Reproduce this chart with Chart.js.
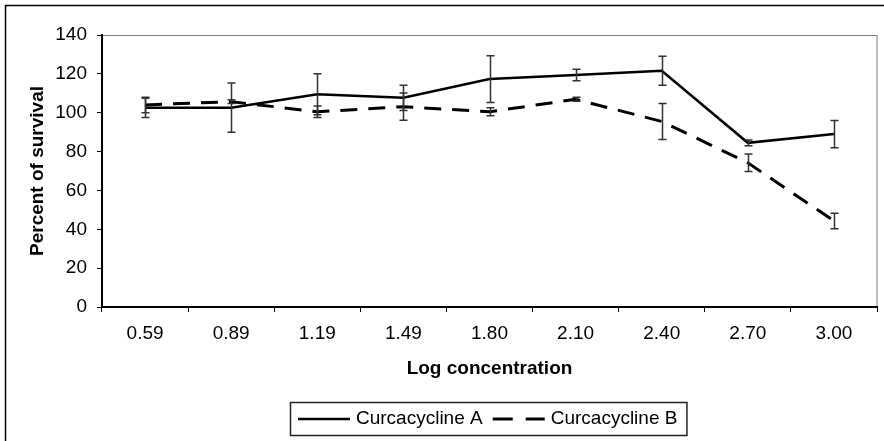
<!DOCTYPE html>
<html>
<head>
<meta charset="utf-8">
<script src="https://cdn.jsdelivr.net/npm/chart.js@4.4.0/dist/chart.umd.min.js"></script>
<style>
  html, body { margin: 0; padding: 0; background: #fff; }
  #wrap { width: 884px; height: 441px; }
</style>
</head>
<body>
<div id="wrap"><canvas id="survivalChart" width="884" height="441"></canvas></div>
<script>
// Valores
const concentrations = ['0.59', '0.89', '1.19', '1.49', '1.80', '2.10', '2.40', '2.70', '3.00'];
const survivalA = [102.5, 102.6, 109.5, 107.7, 117.3, 119.4, 121.6, 84.5, 89.0];
const errorA = [5, 12.7, 10.5, 6.5, 12, 3, 7.5, 1.5, 7];
const survivalB = [104, 105.7, 100.5, 103.1, 100.5, 106.9, 95.5, 74.2, 44.3];
const errorB = [4, 1, 3, 7, 2, 1, 9.3, 4.5, 4];
const yMin = 0, yMax = 140, yStep = 20;

const FONT = "'Liberation Sans', Arial, sans-serif";
const FONT_SIZE = 19;

// Moldura externa e borda da área do gráfico
const framePlugin = {
    id: 'frame',
    beforeDraw(chart) {
        const ctx = chart.ctx;
        const a = chart.chartArea;
        ctx.save();
        ctx.fillStyle = '#fff';
        ctx.fillRect(0, 0, chart.width, chart.height);
        ctx.strokeStyle = '#000';
        ctx.lineWidth = 1.5;
        ctx.strokeRect(5.5, 5.5, chart.width + 10, chart.height + 10);
        ctx.strokeStyle = '#808080';
        ctx.lineWidth = 1;
        ctx.strokeRect(a.left, Math.round(a.top) + 0.5, a.right - a.left, a.bottom - a.top);
        ctx.restore();
    }
};

// Barras de erro desenhadas pelas escalas do próprio gráfico
const errorBarPlugin = {
    id: 'errorBars',
    afterDatasetsDraw(chart) {
        const ctx = chart.ctx;
        const x = chart.scales.x, y = chart.scales.y;
        ctx.save();
        ctx.strokeStyle = '#333';
        ctx.lineWidth = 1.5;
        chart.data.datasets.forEach(ds => {
            ds.data.forEach((v, i) => {
                const e = ds.errors[i];
                const px = Math.round(x.getPixelForValue(i)) + 0.5;
                const top = y.getPixelForValue(v + e);
                const bot = y.getPixelForValue(v - e);
                ctx.beginPath();
                ctx.moveTo(px, top); ctx.lineTo(px, bot);
                ctx.moveTo(px - 4, top); ctx.lineTo(px + 4, top);
                ctx.moveTo(px - 4, bot); ctx.lineTo(px + 4, bot);
                ctx.stroke();
            });
        });
        ctx.restore();
    }
};

// Legenda com caixa, abaixo do título do eixo x
const boxLegendPlugin = {
    id: 'boxLegend',
    afterDraw(chart) {
        const ctx = chart.ctx;
        const a = chart.chartArea;
        const sets = chart.data.datasets;
        ctx.save();
        ctx.font = FONT_SIZE + 'px ' + FONT;
        const sample = 52, gapText = 6, gapItem = 10;
        const widths = sets.map(ds => ctx.measureText(ds.label).width);
        let total = 8 + 9;
        widths.forEach((w, i) => { total += sample + gapText + w + (i > 0 ? gapItem : 0); });
        const left = Math.round((a.left + a.right) / 2 - 1.5 - total / 2);
        const top = Math.round(a.bottom + 95);
        const h = 33;
        ctx.strokeStyle = '#222';
        ctx.lineWidth = 1.5;
        ctx.strokeRect(left + 0.5, top + 0.5, total, h);
        const cy = top + h / 2 + 0.5;
        let cx = left + 8;
        sets.forEach((ds, i) => {
            ctx.strokeStyle = ds.borderColor;
            ctx.lineWidth = ds.borderWidth;
            ctx.setLineDash(ds.legendDash || []);
            ctx.beginPath();
            ctx.moveTo(cx, cy); ctx.lineTo(cx + sample, cy);
            ctx.stroke();
            ctx.setLineDash([]);
            cx += sample + gapText;
            ctx.fillStyle = '#000';
            ctx.textBaseline = 'middle';
            ctx.textAlign = 'left';
            ctx.fillText(ds.label, cx, cy);
            cx += widths[i] + gapItem;
        });
        ctx.restore();
    }
};

const config = {
    type: 'line',
    data: {
        labels: concentrations,
        datasets: [
            {
                label: 'Curcacycline A',
                data: survivalA,
                errors: errorA,
                borderColor: '#000',
                borderWidth: 2.5,
                pointRadius: 0,
                tension: 0,
                fill: false
            },
            {
                label: 'Curcacycline B',
                data: survivalB,
                errors: errorB,
                borderColor: '#000',
                borderWidth: 3,
                borderDash: [17, 11],
                legendDash: [20, 13],
                pointRadius: 0,
                tension: 0,
                fill: false
            }
        ]
    },
    options: {
        responsive: false,
        animation: false,
        layout: { padding: { left: 5, top: 35, right: 7, bottom: 59 } },
        plugins: {
            legend: { display: false },
            tooltip: { enabled: false }
        },
        scales: {
            x: {
                offset: true,
                grid: { offset: true, drawOnChartArea: false, color: '#000', tickLength: 5, lineWidth: 1 },
                border: { color: '#000', width: 2 },
                ticks: { color: '#000', padding: 10.5, maxRotation: 0, font: { family: FONT, size: FONT_SIZE } },
                title: {
                    display: true,
                    text: 'Log concentration',
                    color: '#000',
                    padding: { top: 0, bottom: 1.5 },
                    font: { family: FONT, size: FONT_SIZE, weight: 'bold' }
                },
                afterFit(s) { s.height = 75; }
            },
            y: {
                min: yMin,
                max: yMax,
                grid: { drawOnChartArea: false, color: '#000', tickLength: 5, lineWidth: 1 },
                border: { color: '#000', width: 2 },
                ticks: { stepSize: yStep, color: '#000', padding: 10, font: { family: FONT, size: FONT_SIZE } },
                title: {
                    display: true,
                    text: 'Percent of survival',
                    color: '#000',
                    padding: { top: 21.5, bottom: 0 },
                    font: { family: FONT, size: FONT_SIZE, weight: 'bold' }
                },
                afterFit(s) { s.width = 97; }
            }
        }
    },
    plugins: [framePlugin, errorBarPlugin, boxLegendPlugin]
};

const survivalChart = new Chart(document.getElementById('survivalChart'), config);
</script>
</body>
</html>
